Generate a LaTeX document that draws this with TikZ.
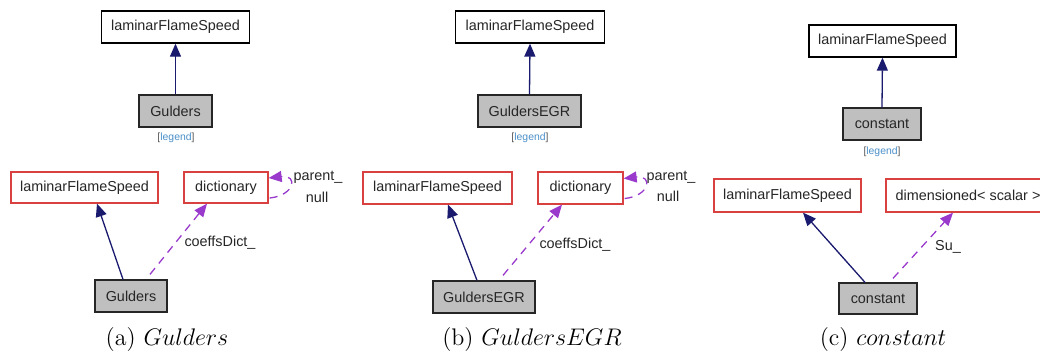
\documentclass[tikz,border=0pt]{standalone}
\usepackage{fontspec}
\newfontfamily\dsans{Liberation Sans}
\usetikzlibrary{arrows.meta,calc}
\definecolor{navyc}{HTML}{1A1A6E}
\definecolor{purpc}{HTML}{9A3ACD}
\definecolor{redc}{HTML}{D94040}
\definecolor{grayfill}{HTML}{BFBFBF}
\definecolor{legblue}{HTML}{4A8FC8}
\definecolor{leggray}{HTML}{555555}
\tikzset{
  basebox/.style={draw, line width=0.65pt, inner sep=0pt, minimum height=16pt,
    font=\dsans\fontsize{7.2}{8}\selectfont, text=black!85},
  topbox/.style={basebox, fill=white, draw=black},
  selfbox/.style={basebox, fill=grayfill, draw=black!85},
  refbox/.style={basebox, fill=white, draw=redc},
  lbl/.style={inner sep=0pt, font=\dsans\fontsize{7.2}{8}\selectfont, text=black!85},
  legendtxt/.style={inner sep=0pt, font=\dsans\fontsize{5.2}{6}\selectfont},
  captxt/.style={inner sep=0pt, font=\fontsize{12}{14}\selectfont},
  inh/.style={draw=navyc, line width=0.65pt, -{Triangle[length=6.5pt,width=5.5pt]}},
  dep/.style={draw=purpc, line width=0.65pt, dash pattern=on 4pt off 3pt, -{Triangle[length=6.5pt,width=5.5pt]}},
}
\newcommand{\legtext}{{\color{leggray}[}{\color{legblue}legend}{\color{leggray}]}}
\begin{document}
\begin{tikzpicture}[x=0.5pt,y=-0.5pt]
\useasboundingbox (0,0) rectangle (1040,350);
% ---------- (a) ----------
\node[topbox, minimum width=74pt] (ta) at (175.5,27) {laminarFlameSpeed};
\node[selfbox, minimum width=36.5pt] (ga) at (175.5,111) {Gulders};
\node[legendtxt] (lga) at (176,138) {\legtext};
\draw[inh] (ga.north) -- (ta.south);
\node[refbox, minimum width=73.5pt, minimum height=15.5pt] (la) at (84.5,187.5) {laminarFlameSpeed};
\node[refbox, minimum width=42pt, minimum height=15.5pt] (da) at (226,187.5) {dictionary};
\node[selfbox, minimum width=36pt] (Ga) at (131,296) {Gulders};
\draw[inh] ($(Ga.north)+(-8,0)$) -- ($(la.south)+(12.5,0)$);
\draw[dep] ($(Ga.north)+(19,-5)$) -- ($(da.south)+(-19,0)$);
\draw[dep] ($(da.east)+(1,10.5)$) .. controls ($(da.east)+(26,8)$) and ($(da.east)+(30,-13)$) .. ($(da.east)+(0,-9.5)$);
\node[lbl] (cda) at (220,243) {coeffsDict\_};
\node[lbl] (pa) at (318,177) {parent\_};
\node[lbl] (na) at (317,197) {null};
\node[captxt] (capa) at (167,340) {(a) $Gulders$};
% ---------- (b) ----------
\node[topbox, minimum width=74.5pt] (tb) at (530,27) {laminarFlameSpeed};
\node[selfbox, minimum width=51.5pt] (gb) at (529.5,111) {GuldersEGR};
\node[legendtxt] (lgb) at (530,138) {\legtext};
\draw[inh] (gb.north) -- (tb.south);
\node[refbox, minimum width=74.5pt] (lb) at (437.5,188) {laminarFlameSpeed};
\node[refbox, minimum width=42.5pt] (db) at (580.5,188) {dictionary};
\node[selfbox, minimum width=51pt] (Gb) at (484,297) {GuldersEGR};
\draw[inh] ($(Gb.north)+(-7,0)$) -- ($(lb.south)+(10.5,0)$);
\draw[dep] ($(Gb.north)+(19,-5)$) -- ($(db.south)+(-18.5,0)$);
\draw[dep] ($(db.east)+(1,10.5)$) .. controls ($(db.east)+(26,8)$) and ($(db.east)+(30,-13)$) .. ($(db.east)+(0,-9.5)$);
\node[lbl] (cdb) at (575,245) {coeffsDict\_};
\node[lbl] (pb) at (671,177) {parent\_};
\node[lbl] (nb) at (668,196) {null};
\node[captxt] (capb) at (532,340) {(b) $GuldersEGR$};
% ---------- (c) ----------
\node[topbox, minimum width=73.5pt] (tc) at (882.5,41) {laminarFlameSpeed};
\node[selfbox, minimum width=39pt] (gc) at (882,124) {constant};
\node[legendtxt] (lgc) at (882,152) {\legtext};
\draw[inh] (gc.north) -- (tc.south);
\node[refbox, minimum width=73.5pt, minimum height=16.5pt] (lc) at (787.5,195.5) {laminarFlameSpeed};
\node[refbox, minimum width=82pt, minimum height=16.5pt] (dc) at (968,195.5) {dimensioned< scalar >};
\node[selfbox, minimum width=39pt, minimum height=15.5pt] (Gc) at (878,298.5) {constant};
\draw[inh] ($(Gc.north)+(-13,0)$) -- ($(lc.south)+(15.5,0)$);
\draw[dep] ($(Gc.north)+(15,-4)$) -- ($(dc.south)+(-15,0)$);
\node[lbl] (suc) at (948,247) {Su\_};
\node[captxt] (capc) at (883,340) {(c) $constant$};
\end{tikzpicture}
\end{document}
